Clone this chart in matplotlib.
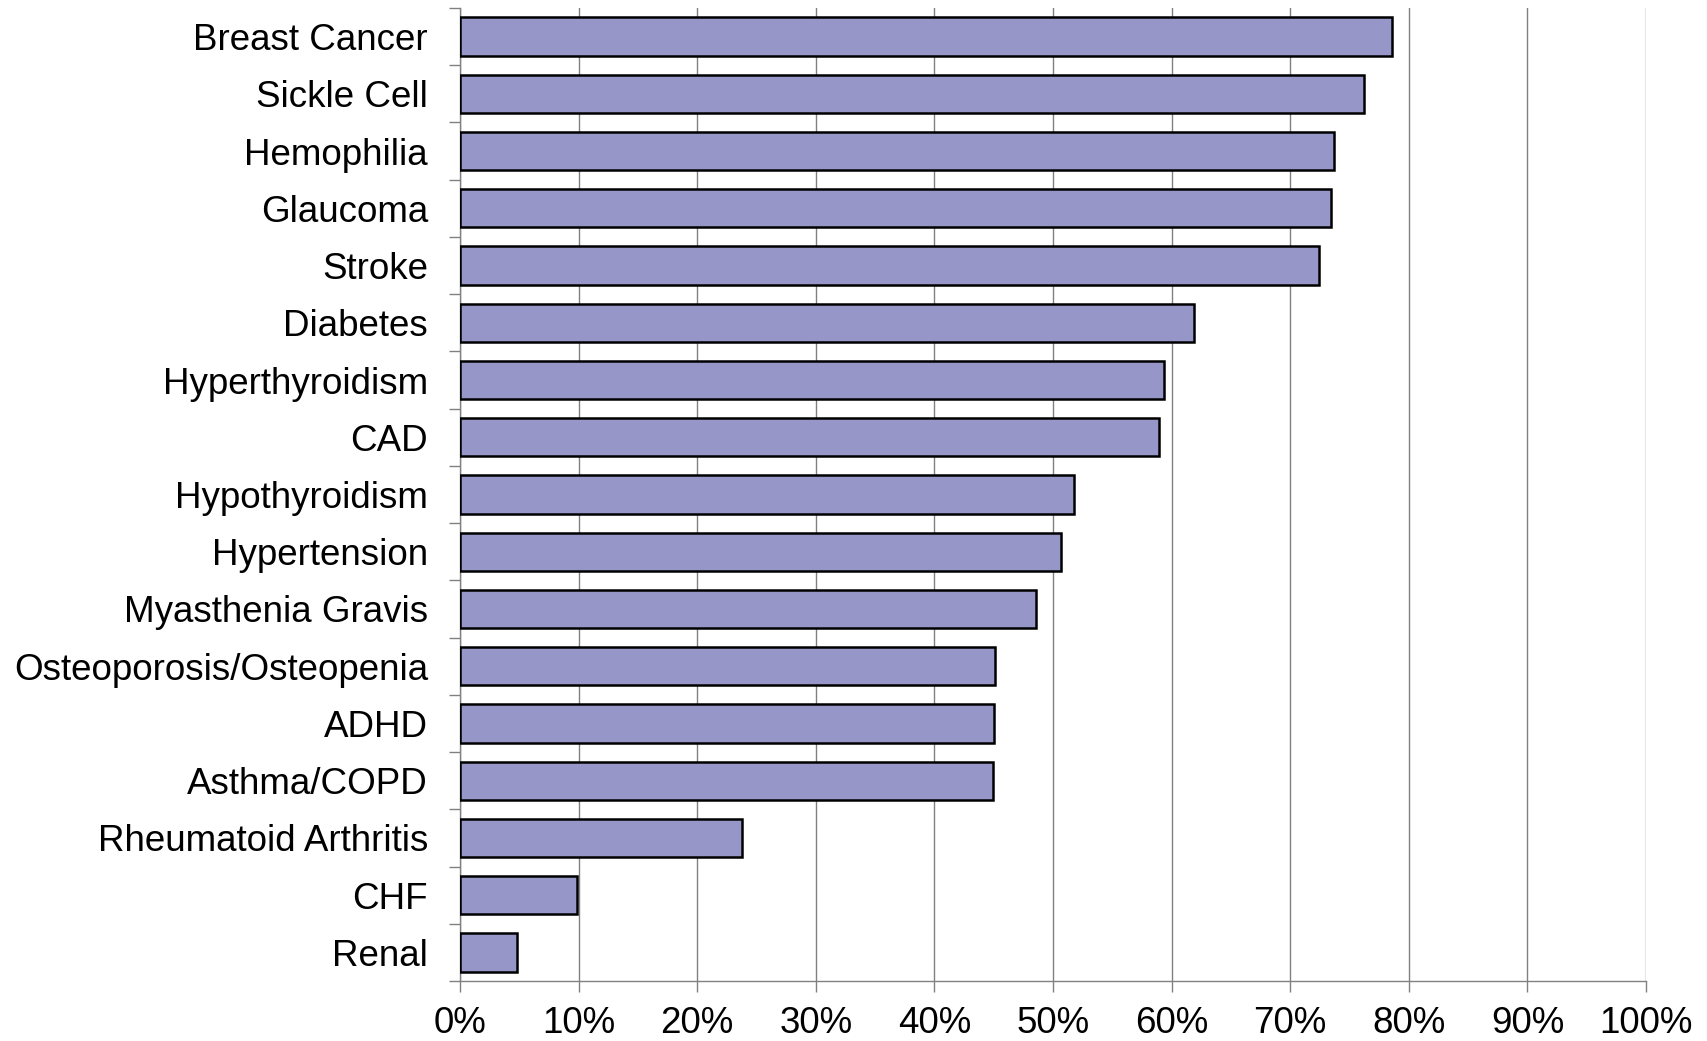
import numpy as np
import matplotlib
matplotlib.use("Agg")
import matplotlib.pyplot as plt
from matplotlib.ticker import FixedLocator, PercentFormatter

plt.rcParams["font.family"] = ["Liberation Sans", "DejaVu Sans"]

conditions = [
    "Breast Cancer", "Sickle Cell", "Hemophilia", "Glaucoma", "Stroke",
    "Diabetes", "Hyperthyroidism", "CAD", "Hypothyroidism", "Hypertension",
    "Myasthenia Gravis", "Osteoporosis/Osteopenia", "ADHD", "Asthma/COPD",
    "Rheumatoid Arthritis", "CHF", "Renal",
]
percent = [
    78.6, 76.2, 73.7, 73.4, 72.4,
    61.9, 59.4, 58.9, 51.8, 50.7,
    48.6, 45.1, 45.0, 44.9,
    23.8, 9.9, 4.8,
]
x_ticks = list(range(0, 101, 10))

fig = plt.figure(figsize=(17.08, 10.41), dpi=100)
# axes box in pixels: left 460, right 1646, top 8, bottom 981
ax = fig.add_axes([460 / 1708, 1 - 981 / 1041, 1186 / 1708, 973 / 1041])

y = np.arange(len(conditions))
ax.barh(y, percent, height=0.67, color="#9696C9", edgecolor="black",
        linewidth=1.8, zorder=3)

ax.set_xlim(0, 100)
ax.set_ylim(len(conditions) - 0.5, -0.5)

ax.set_xticks(x_ticks)
ax.xaxis.set_major_formatter(PercentFormatter(decimals=0))
ax.set_yticks(y)
ax.set_yticklabels(conditions)
ax.yaxis.set_minor_locator(FixedLocator(np.arange(-0.5, len(conditions), 1.0)))

ax.tick_params(axis="y", which="major", length=0, pad=23, labelsize=26.5)
ax.tick_params(axis="y", which="minor", length=7.7, width=1, color="#808080")
ax.tick_params(axis="x", which="major", length=7.7, width=1, color="#808080",
               pad=10, labelsize=26.5)

ax.grid(axis="x", color="#808080", linewidth=1, zorder=0)
for s in ["top", "right"]:
    ax.spines[s].set_visible(False)
for s in ["left", "bottom"]:
    ax.spines[s].set_color("#808080")
    ax.spines[s].set_linewidth(1)

fig.savefig("out.png", dpi=100)
